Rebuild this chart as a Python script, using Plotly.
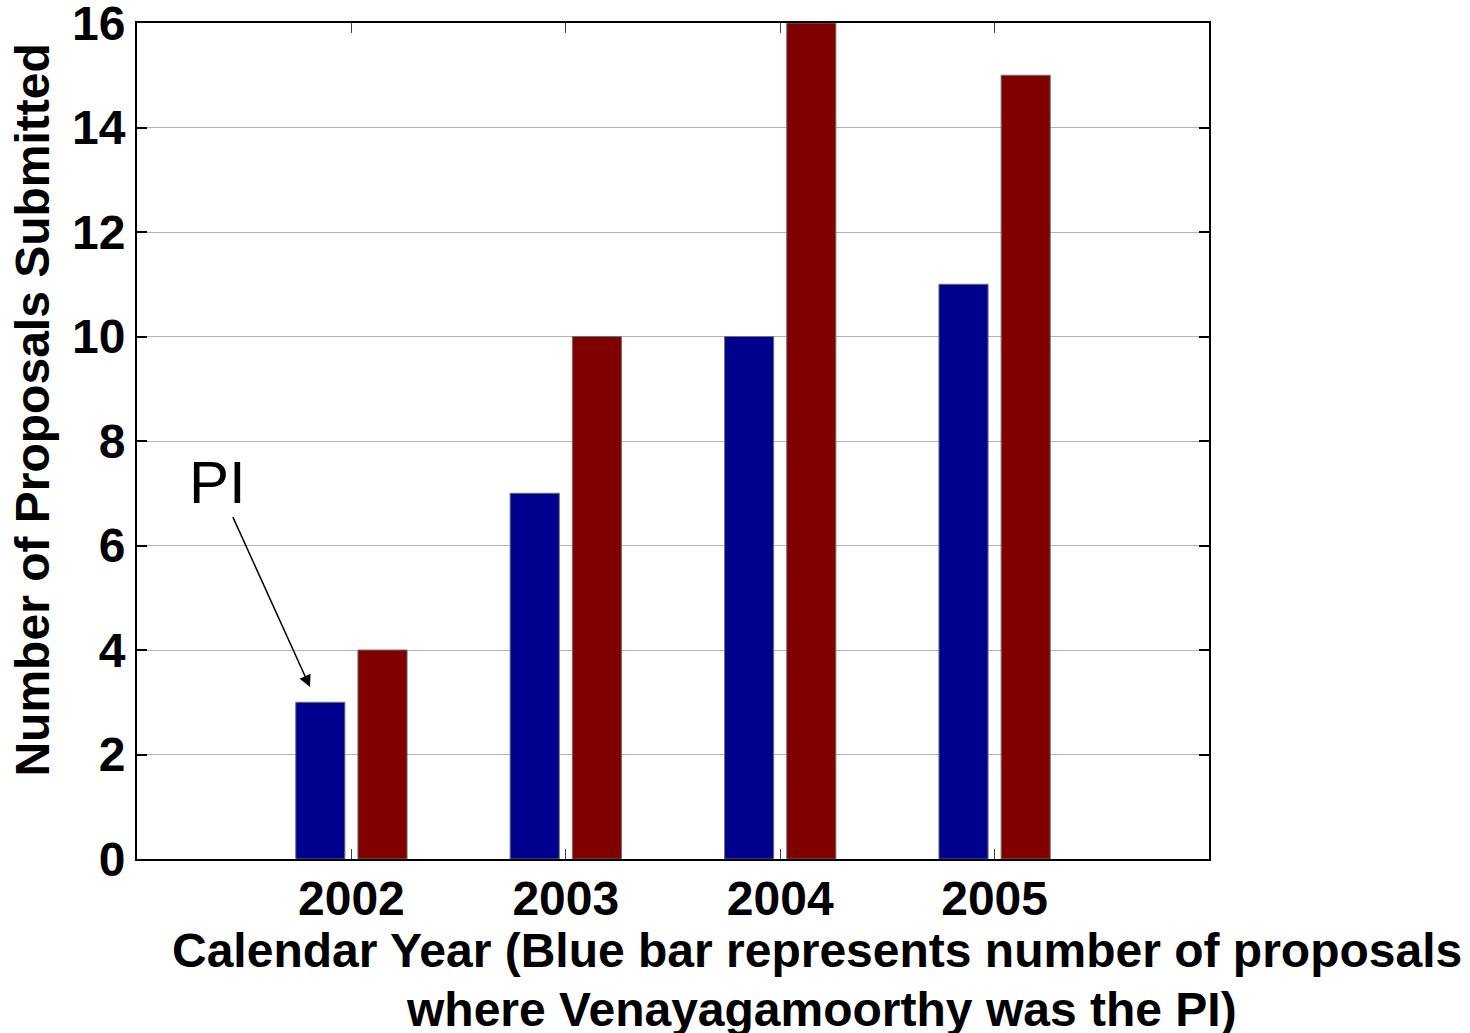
import plotly.graph_objects as go

years = [2002, 2003, 2004, 2005]
pi_counts = [3, 7, 10, 11]
total_counts = [4, 10, 16, 15]
y_ticks = [0, 2, 4, 6, 8, 10, 12, 14, 16]

FONT = "Liberation Sans"

fig = go.Figure()
fig.add_trace(go.Bar(x=years, y=pi_counts, name="PI",
                     marker=dict(color="#00008f", line=dict(color="#707070", width=1))))
fig.add_trace(go.Bar(x=years, y=total_counts, name="Total",
                     marker=dict(color="#800000", line=dict(color="#707070", width=1))))

fig.update_layout(
    width=1470, height=1033,
    margin=dict(l=137, r=261, t=23, b=174),
    paper_bgcolor="white", plot_bgcolor="white",
    barmode="group", bargap=0.42, bargroupgap=0.21,
    showlegend=False,
    font=dict(family=FONT, color="black"),
)
fig.update_xaxes(
    range=[2001, 2006], tickvals=years, ticktext=[str(y) for y in years],
    ticks="inside", ticklen=10, tickcolor="#404040", tickwidth=1,
    showline=True, linecolor="black", linewidth=2, mirror="allticks",
    showgrid=False, zeroline=False, ticklabeloverflow="allow", automargin=False,
    ticklabelstandoff=-4,
    tickfont=dict(family=FONT, size=48, weight="bold", color="black"),
)
fig.update_yaxes(
    range=[0, 16], tickvals=y_ticks,
    ticks="inside", ticklen=10, tickcolor="black", tickwidth=2,
    showline=True, linecolor="black", linewidth=2, mirror="allticks",
    showgrid=True, gridcolor="#b4b4b4", gridwidth=1, zeroline=False,
    ticklabeloverflow="allow", automargin=False,
    tickfont=dict(family=FONT, size=48, weight="bold", color="black"),
)

fig.add_annotation(
    text="Number of Proposals Submitted", textangle=-90,
    xref="paper", yref="paper", x=-0.0975, y=0.537,
    xanchor="center", yanchor="middle", showarrow=False,
    font=dict(family=FONT, size=48, weight="bold", color="black"),
)
fig.add_annotation(
    text="Calendar Year (Blue bar represents number of proposals",
    xref="paper", yref="paper", x=0.6345, y=-0.109,
    xanchor="center", yanchor="middle", showarrow=False,
    font=dict(family=FONT, size=48, weight="bold", color="black"),
)
fig.add_annotation(
    text="where Venayagamoorthy was the PI)",
    xref="paper", yref="paper", x=0.6385, y=-0.180,
    xanchor="center", yanchor="middle", showarrow=False,
    font=dict(family=FONT, size=48, weight="bold", color="black"),
)
fig.add_annotation(
    text="PI", x=2001.807, y=3.29, xref="x", yref="y",
    ax=-93, ay=-205, axref="pixel", ayref="pixel",
    showarrow=True, arrowhead=2, arrowsize=1.6, arrowwidth=1.5, arrowcolor="black",
    font=dict(family=FONT, size=60, color="black"),
)

fig.write_html("out.html", config={"displayModeBar": False},
               post_script="document.body.style.margin='0';")
